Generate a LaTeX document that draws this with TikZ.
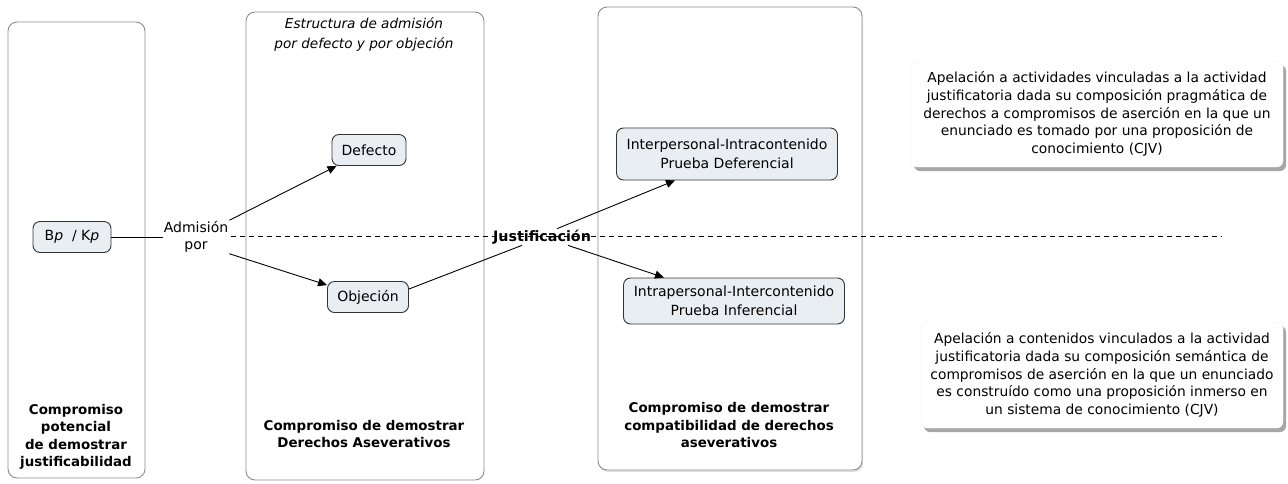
\documentclass[tikz,border=0pt]{standalone}
\usepackage{fontspec}
\setmainfont{DejaVu Sans}
\usetikzlibrary{arrows.meta,shadows}
\definecolor{nodefill}{HTML}{E8EEF2}
\definecolor{panelline}{HTML}{8C8C8C}
\tikzset{
  panel/.style={draw=panelline, line width=0.9pt, rounded corners=9pt},
  concept/.style={draw=black!80, line width=0.9pt, fill=nodefill, rounded corners=7pt, align=center, inner sep=0pt, font=\fontsize{14}{19}\selectfont},
  plain/.style={align=center, inner sep=1pt, font=\fontsize{14}{17}\selectfont},
  paneltitle/.style={align=center, inner sep=0pt, font=\bfseries\fontsize{13.4}{17.5}\selectfont},
  note/.style={align=center, inner sep=0pt, fill=white, draw=black!6, rounded corners=6pt,
    drop shadow={shadow xshift=3pt, shadow yshift=-4pt, fill=black!35, opacity=1},
    font=\fontsize{13.8}{17.6}\selectfont},
  link/.style={draw=black, line width=0.9pt},
  arrowlink/.style={link, -{Triangle[length=9pt,width=8pt]}},
}
\begin{document}
\begin{tikzpicture}[x=1pt,y=-1pt]
\useasboundingbox (0,0) rectangle (1288,483);
% panels
\draw[panel] (8,22) rectangle (145,478);
\draw[panel] (246,12) rectangle (484,480);
\draw[panel, drop shadow={shadow xshift=1pt, shadow yshift=-2pt, fill=black!25}, fill=white] (598,7) rectangle (862,470);
\node[paneltitle] (t1) at (76,437) {Compromiso\\potencial\\de demostrar\\justificabilidad};
\node[paneltitle] (t2) at (364,434) {Compromiso de demostrar\\Derechos Aseverativos};
\node[paneltitle] (t3) at (729,425) {Compromiso de demostrar\\compatibilidad de derechos\\aseverativos};
\node[plain, font=\itshape\fontsize{13.6}{20}\selectfont] (st) at (364,34) {Estructura de admisión\\por defecto y por objeción};
% notes
\node[note, minimum width=372pt, minimum height=106pt] (n1) at (1097,114) {Apelación a actividades vinculadas a la actividad\\justificatoria dada su composición pragmática de\\derechos a compromisos de aserción en la que un\\enunciado es tomado por una proposición de\\conocimiento (CJV)};
\node[note, minimum width=362pt, minimum height=106pt] (n2) at (1102,375) {Apelación a contenidos vinculados a la actividad\\justificatoria dada su composición semántica de\\compromisos de aserción en la que un enunciado\\es construído como una proposición inmerso en\\un sistema de conocimiento (CJV)};
% concepts
\node[concept, minimum width=78pt, minimum height=31pt] (bp) at (72,237) {B\textit{p}~~/ K\textit{p}};
\node[plain] (adm) at (196,237) {Admisión\\por};
\node[concept, minimum width=74pt, minimum height=31pt] (def) at (369,150) {Defecto};
\node[concept, minimum width=81pt, minimum height=31pt] (obj) at (368,297) {Objeción};
\node[concept, minimum width=221pt, minimum height=52pt] (inter) at (727,154) {Interpersonal-Intracontenido\\Prueba Deferencial};
\node[concept, minimum width=221pt, minimum height=46pt] (intra) at (734,301) {Intrapersonal-Intercontenido\\Prueba Inferencial};
\coordinate (dend) at (1222,236);
% connectors
\draw[link, dash pattern=on 5pt off 4pt, line width=0.8pt] ([xshift=2pt,yshift=1pt]adm.east) -- (dend);
\node[plain, font=\bfseries\fontsize{14.3}{16}\selectfont] (jus) at (542,237) {Justificación};
\draw[link] (bp.east) -- (adm.west);
\draw[arrowlink] (adm.north east) -- ([xshift=5pt]def.south west);
\draw[arrowlink] (adm.south east) -- ([yshift=-4pt]obj.north west);
\draw[link] ([yshift=8pt]obj.east) -- ([xshift=-20pt]jus.south);
\draw[arrowlink] ([xshift=15pt]jus.north) -- ([xshift=-52pt]inter.south);
\draw[arrowlink] ([xshift=26pt]jus.south) -- ([xshift=-70pt]intra.north);
\end{tikzpicture}
\end{document}
